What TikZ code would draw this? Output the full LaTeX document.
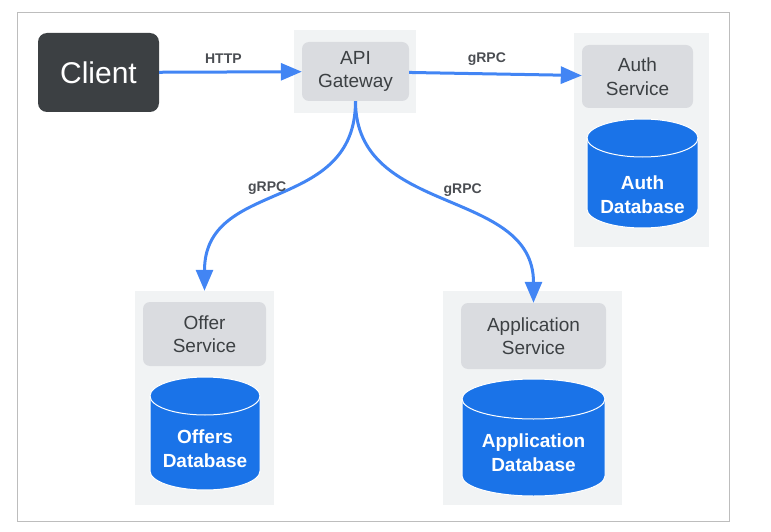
\documentclass[tikz,border=0pt]{standalone}
\usepackage{fontspec}
\setmainfont{Liberation Sans}
\usepackage{xcolor}
\usepackage{tikz}
\usetikzlibrary{positioning}
\usetikzlibrary{arrows.meta}
\definecolor{arrowblue}{HTML}{4285F4}
\definecolor{dbblue}{HTML}{1A73E8}
\definecolor{panelgray}{HTML}{F1F3F4}
\definecolor{boxgray}{HTML}{DADCE0}
\definecolor{textgray}{HTML}{3C4043}
\definecolor{lblgray}{HTML}{4A4D52}
\definecolor{bordergray}{HTML}{BDBDBD}
% cx, top, bottom, rx, ry
\newcommand\dbcylinder[5]{%
\filldraw[fill=dbblue,draw=white,line width=1pt] (#1-#4,#2+#5) -- (#1-#4,#3-#5)
 arc[start angle=180,end angle=360,x radius=#4pt,y radius=#5pt] -- (#1+#4,#2+#5)
 arc[start angle=0,end angle=180,x radius=#4pt,y radius=#5pt] -- cycle;
\draw[white,line width=1pt] (#1-#4,#2+#5)
 arc[start angle=180,end angle=360,x radius=#4pt,y radius=#5pt];
}

\begin{document}
\begin{tikzpicture}[x=1pt,y=-1pt,
panel/.style={fill=panelgray,inner sep=0pt},
svc/.style={fill=boxgray,rounded corners=7pt,text=textgray,align=center,
 inner sep=0pt,font=\fontsize{19}{23.5}\selectfont},
dbtext/.style={text=white,align=center,font=\bfseries\fontsize{19}{24}\selectfont},
lbl/.style={text=lblgray,inner sep=1pt,font=\bfseries\fontsize{14}{16}\selectfont},
link/.style={draw=arrowblue,line width=3pt,-{Triangle[length=21pt,width=17pt]}}]
\useasboundingbox (0,0) rectangle (771,532);

%frame:
\node[draw=bordergray,line width=1pt,
inner sep=0pt,
minimum width=712,minimum height=508] (frame) at (373,267) {};

%----------client
\node[fill=textgray,rounded corners=9pt,
minimum width=121,minimum height=79,
text=white,font=\fontsize{30}{36}\selectfont] (client) at (98.5,72.5) {Client};

%----------gateway
\node[panel,minimum width=122,minimum height=83] (gwpanel) at (355,71.5) {};
\node[svc,minimum width=107,minimum height=59] (gw) at (355.5,71.5) {API\\Gateway};

%----------auth
\node[panel,minimum width=135,minimum height=214] (authpanel) at (641.5,140) {};
\node[svc,minimum width=111,minimum height=63] (auth) at (637.5,76.5) {Auth\\Service};
\dbcylinder{642.5}{119}{228}{55.5}{19}
\node[dbtext] (authdb) at (642.5,194.5) {Auth\\Database};

%----------offer
\node[panel,minimum width=139,minimum height=214] (offerpanel) at (204.5,398) {};
\node[svc,minimum width=123,minimum height=64] (offer) at (204.5,334) {Offer\\Service};
\dbcylinder{205}{377}{490}{55}{19}
\node[dbtext] (offerdb) at (205,449) {Offers\\Database};

%----------application
\node[panel,minimum width=179,minimum height=214] (apppanel) at (532.5,398) {};
\node[svc,minimum width=145,minimum height=66] (app) at (533.5,336) {Application\\Service};
\dbcylinder{533.5}{379}{496}{71.5}{20}
\node[dbtext] (appdb) at (533.5,453) {Application\\Database};

%lines:
\draw[link] (client) -- node[lbl,above=6pt,pos=0.45] {HTTP} (gw);
\draw[link] (gw) -- node[lbl,above=6pt,pos=0.45] {gRPC} (auth);
\draw[link] (gw.south) to[out=-90,in=90,looseness=1.2]
 node[lbl,pos=0.47,anchor=south east,yshift=-4pt,xshift=2pt] {gRPC} (offerpanel.north);
\draw[link] (gw.south) to[out=-90,in=90,looseness=1.1]
 node[lbl,pos=0.48,anchor=south west,xshift=2pt] {gRPC} (app.north);

\end{tikzpicture}
\end{document}
